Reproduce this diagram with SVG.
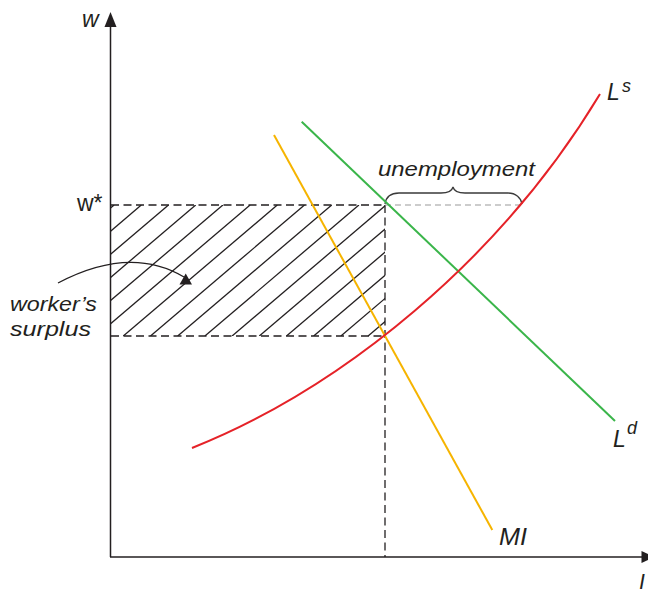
<svg xmlns="http://www.w3.org/2000/svg" width="648" height="589" viewBox="0 0 648 589">
<style>
.t{font-family:"Liberation Sans",Arial,sans-serif;font-size:21px;fill:#231f20}
.i{font-style:italic}
.big{font-size:23px}
.sup{font-size:18px}
.ax{stroke:#231f20;stroke-width:1.5;fill:none}
.dash{stroke:#231f20;stroke-width:1.3;stroke-dasharray:8 4.5;fill:none}
.hatch line{stroke:#231f20;stroke-width:1.3}
.curve{fill:none;stroke-width:2}
</style>
<defs>
<clipPath id="rectclip"><rect x="111" y="205" width="274" height="131"/></clipPath>
</defs>
<rect width="648" height="589" fill="#fff"/>

<g id="axes">
<line class="ax" x1="110.5" y1="557" x2="110.5" y2="24"/>
<polygon points="110.5,12 104.5,27 116.5,27" fill="#231f20"/>
<line class="ax" x1="110" y1="557" x2="643" y2="557"/>
<polygon points="654,557 641.5,551 641.5,563" fill="#231f20"/>
<text class="t i big" x="82" y="27">w</text>
<text class="t i big" x="639" y="592">l</text>
</g>

<g id="surplus-area">
<g class="hatch" clip-path="url(#rectclip)">
<line x1="-39.9" y1="336" x2="114.1" y2="205"/>
<line x1="-12.7" y1="336" x2="141.3" y2="205"/>
<line x1="14.5" y1="336" x2="168.5" y2="205"/>
<line x1="41.7" y1="336" x2="195.7" y2="205"/>
<line x1="68.9" y1="336" x2="222.9" y2="205"/>
<line x1="96.1" y1="336" x2="250.1" y2="205"/>
<line x1="123.3" y1="336" x2="277.3" y2="205"/>
<line x1="150.5" y1="336" x2="304.5" y2="205"/>
<line x1="177.7" y1="336" x2="331.7" y2="205"/>
<line x1="204.9" y1="336" x2="358.9" y2="205"/>
<line x1="232.1" y1="336" x2="386.1" y2="205"/>
<line x1="259.3" y1="336" x2="413.3" y2="205"/>
<line x1="286.5" y1="336" x2="440.5" y2="205"/>
<line x1="313.7" y1="336" x2="467.7" y2="205"/>
<line x1="340.9" y1="336" x2="494.9" y2="205"/>
<line x1="368.1" y1="336" x2="522.1" y2="205"/>
</g>
<line class="dash" x1="111" y1="205" x2="385" y2="205"/>
<line class="dash" x1="111" y1="336" x2="385" y2="336"/>
<line class="dash" x1="385" y1="205" x2="385" y2="557"/>
<text class="t big" x="77" y="211">w*</text>
</g>

<g id="unemployment">
<line x1="385" y1="205" x2="521" y2="205" stroke="#9a9a9a" stroke-width="1.2" stroke-dasharray="6 4"/>
<path d="M385,204 C386,197 391,193 399,193 L441,193 C448,193 452,191 453,187 C454,191 458,193 465,193 L508,193 C516,193 521,198 522,204" fill="none" stroke="#3a3a3a" stroke-width="1.3"/>
<text class="t i" x="378" y="176" textLength="157" lengthAdjust="spacingAndGlyphs">unemployment</text>
</g>

<g id="Ld">
<line class="curve" x1="301.7" y1="121.7" x2="615" y2="421" stroke="#3ab54a"/>
<text class="t i big" x="613" y="447">L</text>
<text class="t i sup" x="627" y="434">d</text>
</g>

<g id="MI">
<line class="curve" x1="274" y1="135" x2="492.3" y2="530" stroke="#f6b400"/>
<text class="t i big" x="499" y="545" textLength="28" lengthAdjust="spacingAndGlyphs">MI</text>
</g>

<g id="Ls">
<path class="curve" d="M192,448 C342,388 500,260 600,94" stroke="#e52228"/>
<text class="t i big" x="607" y="100">L</text>
<text class="t i sup" x="622" y="92">s</text>
</g>

<g id="worker-surplus">
<path d="M58,283 Q130,245 184,277" fill="none" stroke="#231f20" stroke-width="1.3"/>
<polygon points="185.7,273.5 179.5,284.5 192,284.5" fill="#231f20"/>
<text class="t i" x="10" y="311" textLength="87" lengthAdjust="spacingAndGlyphs">worker’s</text>
<text class="t i" x="10" y="336" textLength="81" lengthAdjust="spacingAndGlyphs">surplus</text>
</g>
</svg>
